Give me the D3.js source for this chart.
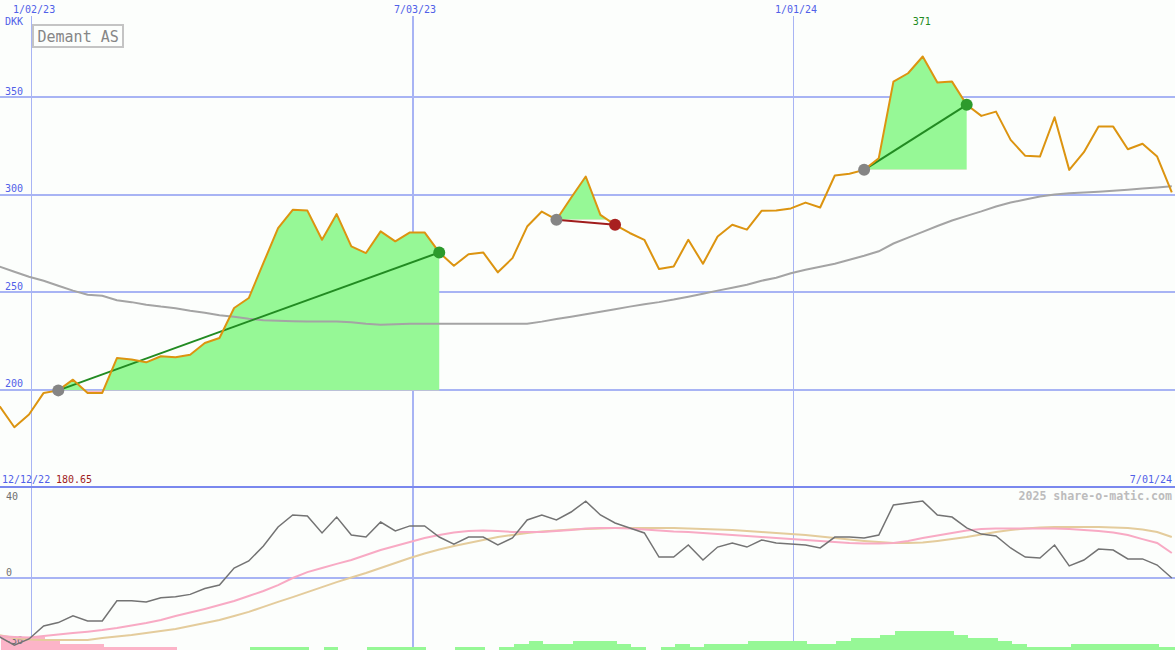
<!DOCTYPE html>
<meta charset="utf-8">
<style>
  body { margin: 0; background: #fcfefc; }
  svg { display: block; font-family: "DejaVu Sans Mono", monospace; }
  .grid { stroke: #a8b4f4; shape-rendering: crispEdges; }
  .blue { fill: #5060e8; font-size: 10px; }
  .osc-lbl { fill: #707070; font-size: 10px; }
</style>
<svg width="1175" height="650"></svg>
<script src="https://d3js.org/d3.v7.min.js"></script>
<script>

  // weekly closes, Demant AS (DKK)
  var price = [191.4, 180.65, 187.2, 198.3, 199.6, 205.1, 198.3, 198.3, 216.2, 215.4,
    214.0, 217.1, 216.6, 217.9, 223.9, 226.5, 241.9, 247.0, 265.0, 282.9,
    292.3, 291.9, 276.9, 290.1, 273.5, 270.1, 281.2, 276.1, 280.7, 280.7,
    270.4, 263.6, 269.5, 270.4, 260.2, 267.5, 283.7, 291.4, 287.2, 298.5,
    309.4, 289.7, 284.6, 280.4, 276.9, 261.9, 263.2, 276.9, 264.6, 278.6,
    284.6, 282.1, 291.8, 291.9, 293.0, 296.0, 293.5, 309.9, 310.8, 312.8,
    318.8, 358.1, 362.4, 371.0, 357.6, 358.1, 346.2, 340.5, 342.7, 328.2,
    320.0, 319.6, 339.8, 312.8, 321.9, 335.0, 335.0, 323.4, 326.2, 319.6,
    301.2];

  // long moving average (grey)
  var avg = [263.1, 260.5, 257.9, 255.9, 253.3, 250.8, 248.7, 248.2, 245.9, 244.9,
    243.6, 242.6, 241.8, 240.5, 239.5, 238.2, 237.4, 236.4, 235.6, 235.4,
    235.1, 234.9, 234.9, 234.9, 234.6, 233.8, 233.3, 233.6, 233.8, 233.8,
    233.8, 233.8, 233.8, 233.8, 233.8, 233.8, 233.8, 234.9, 236.2, 237.4,
    238.7, 240.0, 241.3, 242.6, 243.8, 244.9, 246.2, 247.7, 249.2, 250.8,
    252.3, 253.8, 255.9, 257.4, 259.7, 261.5, 263.1, 264.6, 266.7, 268.7,
    271.0, 275.0, 278.0, 281.0, 284.0, 286.8, 289.2, 291.5, 294.0, 296.0,
    297.6, 299.1, 300.1, 300.8, 301.2, 301.6, 302.1, 302.6, 303.2, 303.8,
    304.4];

  // lower panel: oscillator and its two signal lines
  var osc = [-25.9, -29.5, -26.8, -21.1, -19.6, -16.6, -18.9, -18.9, -10.0, -10.0,
    -10.5, -8.7, -8.2, -7.2, -4.6, -3.1, 4.4, 7.5, 14.1, 22.4,
    27.7, 27.3, 19.8, 26.8, 18.9, 18.0, 24.6, 20.7, 22.9, 22.9,
    18.0, 14.9, 18.0, 18.0, 14.5, 17.6, 25.5, 27.7, 25.5, 29.0,
    33.8, 27.7, 24.2, 22.0, 19.8, 9.2, 9.2, 14.5, 7.9, 13.6,
    15.4, 13.6, 16.7, 15.4, 14.9, 14.5, 13.2, 18.0, 18.0, 17.6,
    18.9, 32.1, 33.0, 33.8, 27.7, 26.8, 22.0, 19.3, 18.5, 13.2,
    9.2, 8.8, 14.5, 5.3, 7.9, 12.7, 12.3, 8.4, 8.4, 5.7,
    0];
  var sigFast = [-25.5, -25.9, -26.2, -25.5, -24.8, -24.2, -23.6, -22.9, -22.0, -20.9,
    -19.8, -18.5, -16.7, -15.2, -13.6, -11.9, -10.1, -7.9, -5.7, -3.1,
    0, 2.6, 4.4, 6.2, 7.9, 10.1, 12.3, 14.1, 15.8, 17.6,
    18.9, 20.0, 20.7, 20.9, 20.7, 20.2, 20.2, 20.2, 20.7, 21.1,
    21.8, 22.0, 22.0, 21.8, 21.3, 20.9, 20.4, 20.2, 19.8, 19.3,
    18.9, 18.5, 18.0, 17.6, 17.1, 16.7, 16.3, 15.8, 15.4, 15.2,
    15.2, 15.4, 16.3, 17.6, 18.7, 19.8, 20.9, 21.5, 21.8, 21.8,
    21.8, 21.8, 21.8, 21.5, 21.1, 20.7, 20.0, 18.9, 17.1, 15.4,
    11.0];
  var sigSlow = [-25.1, -26.4, -27.0, -27.3, -27.3, -27.3, -27.3, -26.4, -25.7, -25.1,
    -24.2, -23.3, -22.4, -21.1, -19.8, -18.5, -16.7, -14.9, -12.7, -10.5,
    -8.4, -6.2, -4.0, -1.8, 0.2, 2.2, 4.4, 6.6, 8.8, 10.8,
    12.5, 14.1, 15.4, 16.7, 18.0, 18.9, 19.8, 20.4, 20.9, 21.3,
    21.5, 21.8, 22.0, 22.0, 22.0, 22.0, 22.0, 21.8, 21.5, 21.3,
    21.1, 20.7, 20.2, 19.8, 19.3, 18.9, 18.2, 17.6, 16.9, 16.3,
    15.8, 15.4, 15.4, 15.6, 16.3, 17.1, 18.0, 19.1, 20.2, 21.1,
    21.8, 22.2, 22.4, 22.4, 22.4, 22.4, 22.2, 22.0, 21.3, 20.2,
    18.0];
  var hist = [-4.3, -4.3, -4.3, -3, -2, -2, -2, -1, -1, -1,
    -1, -1, 0, 0, 0, 0, 0, 1, 1, 1,
    1, 0, 1, 0, 0, 1, 1, 1, 1, 0,
    0, 1, 1, 0, 1, 2, 3, 2, 2, 3,
    3, 3, 2, 1, 0, 1, 2, 1, 2, 2,
    2, 3, 3, 3, 3, 2, 2, 3, 4, 4,
    5, 6.3, 6.3, 6.3, 6.3, 5, 4, 4, 3, 2,
    1, 1, 1, 2, 2, 2, 2, 2, 2, 1,
    1];

  // trades (week index of buy / sell)
  var tradeIn = [4, 38, 59];
  var tradeOut = [30, 42, 66];

  var dateTicks = ["2023-01-02", "2023-07-03", "2024-01-01"];
  var dateTickLabels = ["1/02/23", "7/03/23", "1/01/24"];
  var priceTicks = [200, 250, 300, 350];
  var oscTicks = [40, 0, -30];

  var svg = d3.select("svg"),
      W = +svg.attr("width"),
      H = +svg.attr("height"),
      panelY = 487;

  var weeks = d3.timeWeek.range(new Date(2022, 11, 18), new Date(2024, 6, 1));
  var data = weeks.map(function(d, i) {
    return {date: d, price: price[i], avg: avg[i], osc: osc[i], fast: sigFast[i], slow: sigSlow[i], hist: hist[i]};
  });

  var x = d3.scaleTime().domain([weeks[0], weeks[weeks.length - 1]]).range([-0.3, 1171.8]);
  var y = d3.scaleLinear().domain([150, 400]).range([panelY, 0]);
  var yo = d3.scaleLinear().domain([0, 40]).range([578, panelY]);
  var yh = d3.scaleLinear().domain([0, 6]).range([H, H - 18]);
  var parse = d3.timeParse("%Y-%m-%d");

  svg.append("rect").attr("width", W).attr("height", H).attr("fill", "#fcfefc");

  // grid
  svg.selectAll(".hgrid").data(priceTicks).enter().append("line")
    .attr("class", "grid")
    .attr("x1", 0).attr("x2", W)
    .attr("y1", function(d) { return Math.round(y(d)); })
    .attr("y2", function(d) { return Math.round(y(d)); })
    .attr("stroke-width", 2);

  svg.selectAll(".vgrid").data(dateTicks).enter().append("line")
    .attr("class", "grid")
    .attr("x1", function(d) { return Math.round(x(parse(d))) + 0.5; })
    .attr("x2", function(d) { return Math.round(x(parse(d))) + 0.5; })
    .attr("y1", 16).attr("y2", H)
    .attr("stroke-width", function(d) { return parse(d).getMonth() == 6 ? 2 : 1; });

  svg.append("line").attr("class", "grid")
    .attr("x1", 0).attr("x2", W).attr("y1", yo(0)).attr("y2", yo(0)).attr("stroke-width", 2);
  svg.append("line")
    .attr("x1", 0).attr("x2", W).attr("y1", panelY).attr("y2", panelY)
    .attr("stroke", "#7a88ee").attr("stroke-width", 2).style("shape-rendering", "crispEdges");

  // trade fills: green above the buy price, pink below
  var defs = svg.append("defs");
  tradeIn.forEach(function(a, k) {
    var b = tradeOut[k], base = y(price[a]);
    var seg = data.slice(a, b + 1);
    defs.append("clipPath").attr("id", "up" + k).append("rect")
      .attr("x", 0).attr("y", 0).attr("width", W).attr("height", base);
    defs.append("clipPath").attr("id", "dn" + k).append("rect")
      .attr("x", 0).attr("y", base).attr("width", W).attr("height", H - base);
    var area = d3.area()
      .x(function(d) { return x(d.date); })
      .y0(base)
      .y1(function(d) { return y(d.price); });
    svg.append("path").datum(seg).attr("d", area).attr("fill", "#96f896").attr("clip-path", "url(#up" + k + ")");
    svg.append("path").datum(seg).attr("d", area).attr("fill", "#ffb6c8").attr("clip-path", "url(#dn" + k + ")");
  });

  // moving average
  svg.append("path").datum(data)
    .attr("fill", "none").attr("stroke", "#a4a4a4").attr("stroke-width", 2)
    .attr("d", d3.line().x(function(d) { return x(d.date); }).y(function(d) { return y(d.avg); }));

  // trade lines
  tradeIn.forEach(function(a, k) {
    var b = tradeOut[k], win = price[b] > price[a];
    svg.append("line")
      .attr("x1", x(weeks[a])).attr("y1", y(price[a]))
      .attr("x2", x(weeks[b])).attr("y2", y(price[b]))
      .attr("stroke", win ? "#228b22" : "#a01c1c").attr("stroke-width", 2);
  });

  // price
  svg.append("path").datum(data)
    .attr("fill", "none").attr("stroke", "#dc9410").attr("stroke-width", 2).attr("stroke-linejoin", "round")
    .attr("d", d3.line().x(function(d) { return x(d.date); }).y(function(d) { return y(d.price); }));

  tradeIn.forEach(function(a, k) {
    var b = tradeOut[k], win = price[b] > price[a];
    svg.append("circle").attr("cx", x(weeks[a])).attr("cy", y(price[a])).attr("r", 6).attr("fill", "#858585");
    svg.append("circle").attr("cx", x(weeks[b])).attr("cy", y(price[b])).attr("r", 6)
      .attr("fill", win ? "#2c9a2c" : "#a82020");
  });

  // lower panel
  svg.selectAll(".hbar").data(data).enter().append("rect")
    .attr("x", function(d) { return x(d.date) + 1.5; })
    .attr("width", 14.7)
    .attr("y", function(d) { return yh(Math.abs(d.hist)); })
    .attr("height", function(d) { return H - yh(Math.abs(d.hist)); })
    .attr("fill", function(d) { return d.hist < 0 ? "#fcb4c8" : "#96f896"; })
    .style("shape-rendering", "crispEdges");

  svg.selectAll(".osc-lbl").data(oscTicks).enter().append("text")
    .attr("class", "osc-lbl")
    .attr("x", function(d) { return d < 0 ? 5 : 6; })
    .attr("y", function(d) { return d == 40 ? 500 : yo(d) - 2; })
    .text(function(d) { return d; });

  var lo = function(key) {
    return d3.line().x(function(d) { return x(d.date); }).y(function(d) { return yo(d[key]); });
  };
  svg.append("path").datum(data).attr("fill", "none").attr("stroke", "#e4cc9c").attr("stroke-width", 2).attr("d", lo("slow"));
  svg.append("path").datum(data).attr("fill", "none").attr("stroke", "#f8aac4").attr("stroke-width", 2).attr("d", lo("fast"));
  svg.append("path").datum(data).attr("fill", "none").attr("stroke", "#737373").attr("stroke-width", 1.5).attr("d", lo("osc"));

  // labels
  svg.selectAll(".dlbl").data(dateTicks).enter().append("text")
    .attr("class", "blue")
    .attr("x", function(d) { return x(parse(d)) + 3; })
    .attr("y", 13)
    .attr("text-anchor", "middle")
    .text(function(d, i) { return dateTickLabels[i]; });

  svg.append("text").attr("class", "blue").attr("x", 5).attr("y", 25).text("DKK");

  svg.selectAll(".plbl").data(priceTicks).enter().append("text")
    .attr("class", "blue")
    .attr("x", 5)
    .attr("y", function(d) { return y(d) - 2.5; })
    .text(function(d) { return d; });

  svg.append("rect").attr("x", 33).attr("y", 25).attr("width", 90).attr("height", 22)
    .attr("fill", "none").attr("stroke", "#c4c4c4").attr("stroke-width", 2);
  svg.append("text").attr("x", 37.5).attr("y", 41.5)
    .style("font-size", "15px").attr("fill", "#868686").text("Demant AS");

  var hi = d3.maxIndex(price), lowVal = d3.min(price);
  svg.append("text").attr("x", x(weeks[hi]) - 1).attr("y", 25)
    .attr("text-anchor", "middle").style("font-size", "10px").attr("fill", "#208a20")
    .text(d3.format("d")(price[hi]));

  svg.append("text").attr("class", "blue").attr("x", 2).attr("y", 483).text("12/12/22");
  svg.append("text").attr("x", 56).attr("y", 483).style("font-size", "10px").attr("fill", "#a01c1c")
    .text(d3.format(".2f")(lowVal));
  svg.append("text").attr("class", "blue").attr("x", 1172).attr("y", 483).attr("text-anchor", "end").text("7/01/24");
  svg.append("text").attr("x", 1172).attr("y", 500).attr("text-anchor", "end")
    .style("font-size", "11.6px").style("font-weight", "bold").attr("fill", "#bcbcbc")
    .text("2025 share-o-matic.com");

</script>
